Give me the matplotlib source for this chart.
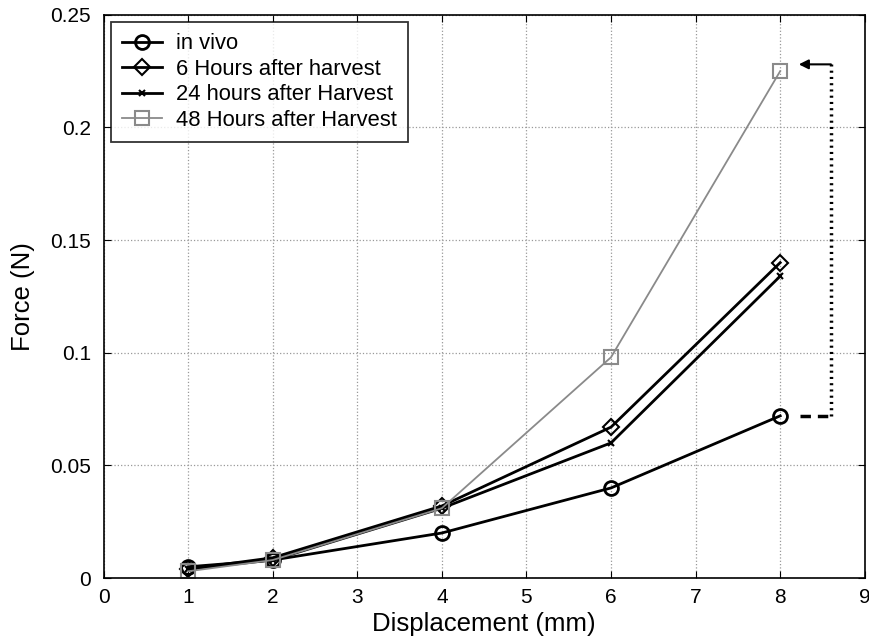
import matplotlib as mpl
import matplotlib.pyplot as plt
import numpy as np

mpl.use('Agg')

# displacement (mm) and force (N)
disp = [1, 2, 4, 6, 8]
in_vivo = [0.005, 0.008, 0.020, 0.040, 0.072]
h6 = [0.004, 0.009, 0.032, 0.067, 0.140]
h24 = [0.004, 0.008, 0.031, 0.060, 0.134]
h48 = [0.003, 0.008, 0.031, 0.098, 0.225]

labels = ['in vivo', '6 Hours after harvest',
          '24 hours after Harvest', '48 Hours after Harvest']
xticks = list(range(10))
yticks = [0, 0.05, 0.1, 0.15, 0.2, 0.25]

plt.rcParams['font.family'] = ['Liberation Sans', 'DejaVu Sans']

fig = plt.figure(figsize=(8.7, 6.43), dpi=100)
ax = fig.add_axes([0.119, 0.101, 0.875, 0.876])

ax.plot(disp, in_vivo, color='black', lw=2, marker='o', ms=10,
        mfc='none', mew=2, label=labels[0])
ax.plot(disp, h6, color='black', lw=2, marker='D', ms=8,
        mfc='none', mew=1.5, label=labels[1])
ax.plot(disp, h24, color='black', lw=2, marker='x', ms=4,
        mew=1.5, label=labels[2])
ax.plot(disp, h48, color='#8a8a8a', lw=1.3, marker='s', ms=10,
        mfc='none', mew=1.5, label=labels[3])

# bracket showing increase from in vivo to 48 hours
ax.plot([8.23, 8.6], [in_vivo[-1], in_vivo[-1]], color='black', lw=2.5,
        ls=(0, (3, 2)))
ax.plot([8.6, 8.6], [in_vivo[-1], 0.228], color='black', lw=2.5,
        ls=(0, (0.6, 1.2)))
ax.annotate('', xy=(8.22, 0.228), xytext=(8.6, 0.228),
            arrowprops=dict(arrowstyle='-|>', color='black', lw=1.5,
                            mutation_scale=14, shrinkA=0, shrinkB=0))

ax.set_xlim(0, 9)
ax.set_ylim(0, 0.25)
ax.set_xticks(xticks)
ax.set_yticks(yticks)
ax.set_yticklabels(['0', '0.05', '0.1', '0.15', '0.2', '0.25'])
ax.tick_params(direction='in', top=True, right=True, labelsize=15,
               length=5, color='black')
ax.tick_params(axis='y', pad=9)
ax.tick_params(axis='x', pad=7)
ax.grid(True, ls=':', color='#999999', lw=0.9)
for s in ax.spines.values():
    s.set_linewidth(1.2)

ax.set_xlabel('Displacement (mm)', fontsize=18.5, labelpad=4)
ax.set_ylabel('Force (N)', fontsize=18.5, labelpad=11)

leg = ax.legend(loc='upper left', fontsize=15.8, frameon=True, fancybox=False,
                edgecolor='black', borderaxespad=0.35, handlelength=1.8,
                handletextpad=0.65, labelspacing=0.2, borderpad=0.5)
leg.get_frame().set_linewidth(1.3)

fig.savefig('out.png', dpi=100)
